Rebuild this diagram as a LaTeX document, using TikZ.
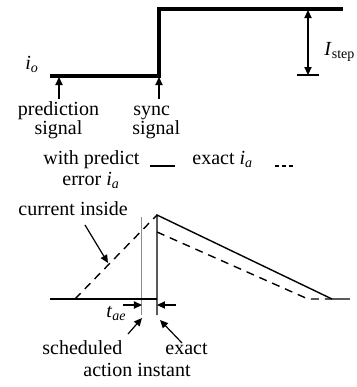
\documentclass[tikz,border=0pt]{standalone}
\usepackage{fontspec}
\setmainfont{Liberation Serif}
\usetikzlibrary{arrows.meta}
\begin{document}
\begin{tikzpicture}[x=0.5pt,y=-0.5pt,
  thickline/.style={line width=1.6pt},
  thinline/.style={line width=0.7pt},
  grayline/.style={line width=0.5pt, draw=black!45},
  tipped/.style={line width=0.6pt, -{Triangle[length=4pt,width=3.6pt]}},
  lbl/.style={font=\fontsize{10}{12}\selectfont, inner sep=0pt},
  topline/.style={text depth=0pt},
  botline/.style={text height=1.2ex},
  dsh/.style={thinline, dash pattern=on 4pt off 3pt},
]
\useasboundingbox (0,0) rectangle (357,387);

% ---- top: step of i_o
\coordinate (b0) at (50,76);
\coordinate (b1) at (159,76);
\coordinate (b2) at (159,9);
\coordinate (b3) at (343,9);
\draw[thickline] (b0) -- (b1) -- (b2) -- (b3);
\node[lbl, anchor=base west] (io) at (25,69) {\textit{i}\textsubscript{\textit{o}}};

\coordinate (pa0) at (59,99);
\coordinate (pa1) at (59,77);
\draw[tipped] (pa0) -- (pa1);
\coordinate (sa0) at (159,99);
\coordinate (sa1) at (159,77);
\draw[tipped] (sa0) -- (sa1);

\node[lbl, topline, anchor=base] (pred1) at (58.5,115.5) {prediction};
\node[lbl, botline, anchor=base] (pred2) at (58.5,134.5) {signal};
\node[lbl, topline, anchor=base west] (sync1) at (133,115.5) {sync};
\node[lbl, botline, anchor=base west] (sync2) at (132,134.5) {signal};

\coordinate (st0) at (308,10);
\coordinate (st1) at (308,75);
\coordinate (tk0) at (297,75);
\coordinate (tk1) at (319,75);
\draw[line width=0.6pt, {Triangle[length=4pt,width=3.6pt]}-{Triangle[length=4pt,width=3.6pt]}] (st0) -- (st1);
\draw[line width=0.6pt] (tk0) -- (tk1);
\node[lbl, anchor=base west] (istep) at (324,55) {\textit{I}\textsubscript{step}};

% ---- legend
\node[lbl, topline, anchor=base west] (leg1) at (43,164) {with predict};
\node[lbl, botline, anchor=base west] (leg2) at (62,185) {error \textit{i}\textsubscript{\textit{a}}};
\coordinate (ls0) at (150,166);
\coordinate (ls1) at (175,166);
\draw[thinline] (ls0) -- (ls1);
\node[lbl, anchor=base west] (leg3) at (192,164) {exact \textit{i}\textsubscript{\textit{a}}};
\coordinate (ld0) at (275,166);
\coordinate (ld1) at (294,166);
\draw[thinline, dash pattern=on 2pt off 1.6pt] (ld0) -- (ld1);

% ---- bottom: current inside
\coordinate (L) at (50,299);
\coordinate (B) at (157,299);
\coordinate (P) at (157,215);
\coordinate (Bt) at (157,315);
\coordinate (R1) at (332,299);
\coordinate (R2) at (350,299);
\coordinate (D0) at (75,299);
\coordinate (Ds) at (157,232);
\coordinate (D1) at (308,299);
\coordinate (G0) at (142,217);
\coordinate (G1) at (142,315);

\draw[grayline] (G0) -- (G1);
\draw[thinline] (L) -- (B);
\draw[thinline] (Bt) -- (P) -- (R1) -- (R2);
\draw[dsh] (D0) -- (P);
\draw[dsh] (Ds) -- (D1) -- (R1);

\node[lbl, anchor=base west] (cur) at (18,215) {current inside};
\coordinate (ca0) at (85,225);
\coordinate (ca1) at (108,263);
\draw[tipped] (ca0) -- (ca1);

\coordinate (ta0) at (123,305);
\coordinate (ta1) at (142,305);
\draw[tipped] (ta0) -- (ta1);
\coordinate (tb0) at (176,305);
\coordinate (tb1) at (157,305);
\draw[tipped] (tb0) -- (tb1);
\node[lbl, anchor=base west] (tae) at (106,317) {\textit{t}\textsubscript{\textit{ae}}};

\node[lbl, topline, anchor=base west] (sched) at (42,354) {scheduled};
\node[lbl, topline, anchor=base west] (exact) at (165,354) {exact};
\node[lbl, botline, anchor=base west] (act) at (83,376) {action instant};
\coordinate (sc0) at (128,334);
\coordinate (sc1) at (142,318);
\draw[tipped] (sc0) -- (sc1);
\coordinate (ex0) at (182,343);
\coordinate (ex1) at (160,320);
\draw[tipped] (ex0) -- (ex1);
\end{tikzpicture}
\end{document}
